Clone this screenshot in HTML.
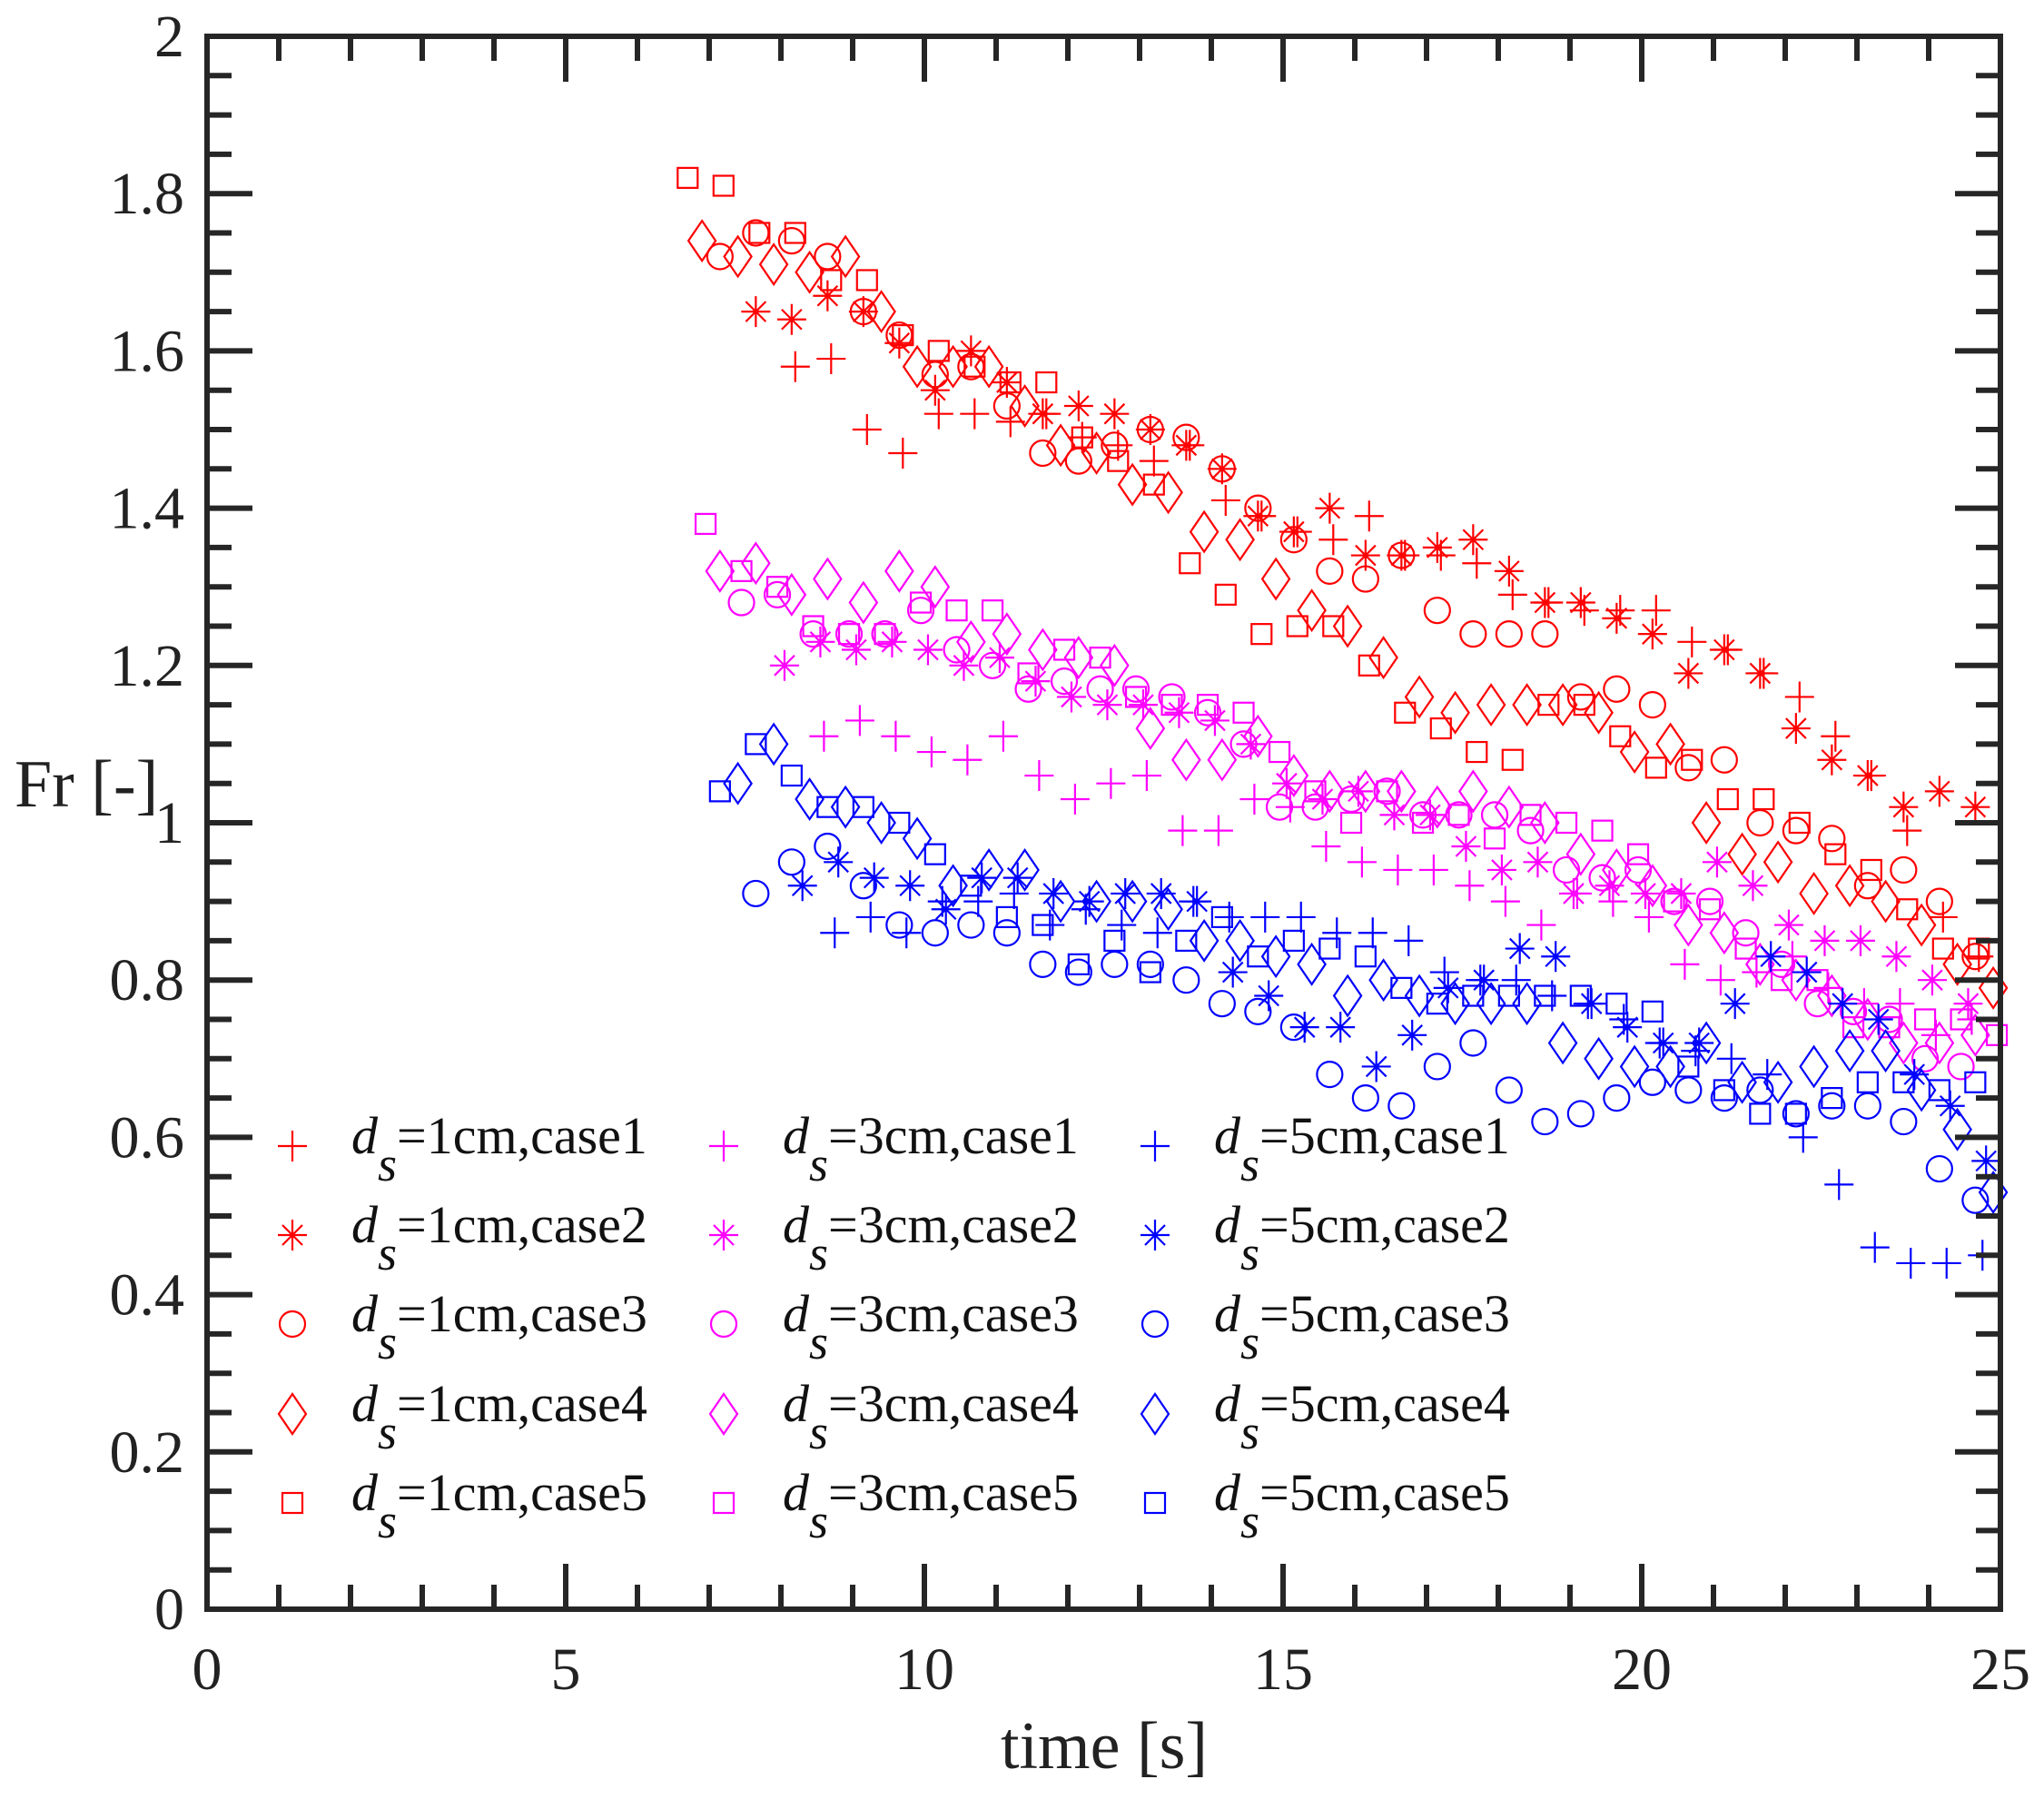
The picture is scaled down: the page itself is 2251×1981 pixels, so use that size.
<!DOCTYPE html>
<html><head><meta charset="utf-8"><style>
html,body{margin:0;padding:0;background:#fff;}
svg{display:block;font-family:"Liberation Serif",serif;}
</style></head><body>
<svg id="chart" width="2251" height="1981" viewBox="0 0 2251 1981" xmlns="http://www.w3.org/2000/svg">
<g id="marks"></g>
<g id="axes"></g>
<g id="legend"></g>
</svg>
<script>
// start times (s) of each series; samples are every 0.5 s
const seriesNames = ["1cm-case1","1cm-case2","1cm-case3","1cm-case4","1cm-case5","3cm-case1","3cm-case2","3cm-case3","3cm-case4","3cm-case5","5cm-case1","5cm-case2","5cm-case3","5cm-case4","5cm-case5"];
const startTimes = [8.2,7.65,7.15,6.9,6.7, 8.6,8.05,7.45,7.15,6.95, 8.75,8.3,7.65,7.4,7.15];
const sampleStep = 0.5;
const fr1c1 = [1.58,1.59,1.50,1.47,1.52,1.52,1.51,1.52,1.49,1.48,1.46,1.48,1.41,1.39,1.37,1.36,1.39,1.34,1.34,1.33,1.29,1.28,1.27,1.27,1.27,1.23,1.22,1.19,1.16,1.11,1.06,0.99,0.88,0.83];
const fr1c2 = [1.65,1.64,1.67,1.65,1.61,1.55,1.60,1.56,1.52,1.53,1.52,1.50,1.48,1.45,1.39,1.37,1.40,1.34,1.34,1.35,1.36,1.32,1.28,1.28,1.26,1.24,1.19,1.22,1.19,1.12,1.08,1.06,1.02,1.04,1.02];
const fr1c3 = [1.72,1.75,1.74,1.72,1.65,1.62,1.57,1.58,1.53,1.47,1.46,1.48,1.50,1.49,1.45,1.40,1.36,1.32,1.31,1.34,1.27,1.24,1.24,1.24,1.16,1.17,1.15,1.07,1.08,1.00,0.99,0.98,0.92,0.94,0.90,0.83];
const fr1c4 = [1.74,1.72,1.71,1.70,1.72,1.65,1.58,1.58,1.58,1.53,1.48,1.47,1.43,1.42,1.37,1.36,1.31,1.27,1.25,1.21,1.16,1.14,1.15,1.15,1.15,1.14,1.09,1.10,1.00,0.96,0.95,0.91,0.92,0.90,0.87,0.82,0.79];
const fr1c5 = [1.82,1.81,1.75,1.75,1.69,1.69,1.62,1.60,1.58,1.56,1.56,1.49,1.46,1.43,1.33,1.29,1.24,1.25,1.25,1.20,1.14,1.12,1.09,1.08,1.15,1.15,1.11,1.07,1.08,1.03,1.03,1.00,0.96,0.94,0.89,0.84,0.84];
const fr3c1 = [1.11,1.13,1.11,1.09,1.08,1.11,1.06,1.03,1.05,1.06,0.99,0.99,1.03,1.02,0.97,0.95,0.94,0.94,0.92,0.90,0.87,0.91,0.90,0.88,0.82,0.80,0.81,0.83,0.79,0.77,0.77,0.73,0.75];
const fr3c2 = [1.20,1.23,1.22,1.23,1.22,1.20,1.21,1.18,1.16,1.15,1.15,1.14,1.13,1.10,1.05,1.03,1.04,1.01,1.01,0.97,0.94,0.95,0.91,0.92,0.91,0.91,0.95,0.92,0.87,0.85,0.85,0.83,0.80,0.77];
const fr3c3 = [1.28,1.29,1.24,1.24,1.24,1.27,1.22,1.20,1.17,1.18,1.17,1.17,1.16,1.14,1.10,1.02,1.02,1.03,1.04,1.01,1.01,1.01,0.99,0.94,0.93,0.94,0.90,0.90,0.86,0.82,0.77,0.76,0.75,0.70,0.69];
const fr3c4 = [1.32,1.33,1.29,1.31,1.28,1.32,1.30,1.23,1.24,1.22,1.21,1.20,1.12,1.08,1.08,1.11,1.06,1.04,1.04,1.04,1.02,1.04,1.02,1.00,0.96,0.94,0.92,0.87,0.86,0.82,0.80,0.78,0.75,0.72,0.72,0.73];
const fr3c5 = [1.38,1.32,1.30,1.25,1.24,1.24,1.28,1.27,1.27,1.19,1.22,1.21,1.16,1.15,1.15,1.14,1.09,1.04,1.00,1.04,1.00,1.01,0.98,1.01,1.00,0.99,0.96,0.90,0.89,0.84,0.80,0.80,0.74,0.74,0.75,0.75,0.73];
const fr5c1 = [0.86,0.88,0.86,0.90,0.90,0.91,0.87,0.89,0.87,0.86,0.90,0.88,0.88,0.88,0.86,0.86,0.85,0.81,0.80,0.80,0.78,0.77,0.75,0.72,0.71,0.70,0.68,0.60,0.54,0.46,0.44,0.44,0.45];
const fr5c2 = [0.92,0.95,0.93,0.92,0.89,0.93,0.93,0.91,0.90,0.91,0.91,0.90,0.81,0.78,0.74,0.74,0.69,0.73,0.79,0.80,0.84,0.83,0.77,0.74,0.72,0.72,0.77,0.83,0.81,0.77,0.75,0.68,0.64,0.57];
const fr5c3 = [0.91,0.95,0.97,0.92,0.87,0.86,0.87,0.86,0.82,0.81,0.82,0.82,0.80,0.77,0.76,0.74,0.68,0.65,0.64,0.69,0.72,0.66,0.62,0.63,0.65,0.67,0.66,0.65,0.66,0.63,0.64,0.64,0.62,0.56,0.52];
const fr5c4 = [1.05,1.10,1.03,1.02,1.00,0.98,0.92,0.94,0.94,0.90,0.90,0.90,0.89,0.85,0.85,0.83,0.82,0.78,0.80,0.78,0.77,0.77,0.77,0.72,0.70,0.69,0.69,0.72,0.67,0.67,0.69,0.71,0.71,0.66,0.61,0.53];
const fr5c5 = [1.04,1.10,1.06,1.02,1.02,1.00,0.96,0.92,0.88,0.87,0.82,0.85,0.81,0.85,0.88,0.83,0.85,0.84,0.83,0.79,0.77,0.78,0.78,0.78,0.78,0.77,0.76,0.69,0.66,0.63,0.63,0.65,0.67,0.67,0.66,0.67];
const seriesValues = [fr1c1,fr1c2,fr1c3,fr1c4,fr1c5,fr3c1,fr3c2,fr3c3,fr3c4,fr3c5,fr5c1,fr5c2,fr5c3,fr5c4,fr5c5];
const xTickLabels = [0,5,10,15,20,25];
const yTickLabels = ["0","0.2","0.4","0.6","0.8","1","1.2","1.4","1.6","1.8","2"];
const legendLabels = ["1cm,case1","1cm,case2","1cm,case3","1cm,case4","1cm,case5","3cm,case1","3cm,case2","3cm,case3","3cm,case4","3cm,case5","5cm,case1","5cm,case2","5cm,case3","5cm,case4","5cm,case5"];

const NS="http://www.w3.org/2000/svg";
const L=228,R=2203,T=40,B=1772;
const xMin=0,xMax=25,yMin=0,yMax=2;
function sx(v){return L+(v-xMin)/(xMax-xMin)*(R-L);}
function sy(v){return B-(v-yMin)/(yMax-yMin)*(B-T);}
const colors=["#ff0000","#ff00ff","#0000ff"];
const shapes=["plus","star","circle","diamond","square"];
function mk(tag,attrs,parent){const e=document.createElementNS(NS,tag);for(const k in attrs)e.setAttribute(k,attrs[k]);parent.appendChild(e);return e;}
function marker(shape,x,y,c,parent){
  const g=mk("g",{stroke:c,fill:"none","stroke-width":"2.2"},parent);
  if(shape==="plus"){mk("path",{d:`M${x-16} ${y}H${x+16}M${x} ${y-17}V${y+17}`},g);}
  else if(shape==="star"){mk("path",{d:`M${x-16} ${y}H${x+16}M${x} ${y-17}V${y+17}M${x-11} ${y-11}L${x+11} ${y+11}M${x-11} ${y+11}L${x+11} ${y-11}`},g);}
  else if(shape==="circle"){mk("circle",{cx:x,cy:y,r:14},g);}
  else if(shape==="diamond"){mk("path",{d:`M${x} ${y-22}L${x+15} ${y}L${x} ${y+22}L${x-15} ${y}Z`},g);}
  else {mk("rect",{x:x-11,y:y-11,width:22,height:22},g);}
  return g;
}
const marks=document.getElementById("marks");
seriesValues.forEach((vals,si)=>{
  const grp=mk("g",{},marks);
  
  
  const c=colors[Math.floor(si/5)], sh=shapes[si%5];
  vals.forEach((v,i)=>{
    const t=startTimes[si]+i*sampleStep;
    const m=marker(sh,sx(t),sy(v),c,grp);
    
    
  });
});
// axes
const ax=document.getElementById("axes");
const frame=mk("rect",{x:L,y:T,width:R-L,height:B-T,fill:"none",stroke:"#262626","stroke-width":"6"},ax);


let tp="";
for(let v=0;v<=25;v+=1){const x=sx(v);const len=(v%5===0)?50:27;if(v>0&&v<25){tp+=`M${x} ${B}V${B-len}M${x} ${T}V${T+len}`;}}
for(let k=0;k<=40;k++){const v=k*0.05;const y=sy(v);const len=(k%4===0)?50:27;if(k>0&&k<40){tp+=`M${L} ${y}H${L+len}M${R} ${y}H${R-len}`;}}
const ticks=mk("path",{d:tp,stroke:"#262626","stroke-width":"6",fill:"none"},ax);


xTickLabels.forEach(v=>{
  const t=mk("text",{x:sx(v),y:1860,"font-size":"66","text-anchor":"middle",fill:"#222"},ax);
  t.textContent=v;
  
  
});
yTickLabels.forEach((s,i)=>{
  const t=mk("text",{x:203,y:sy(i*0.2)+22,"font-size":"66","text-anchor":"end",fill:"#222"},ax);
  t.textContent=s;
  
  
});
const xt=mk("text",{x:1216,y:1947,"font-size":"74","text-anchor":"middle",fill:"#222"},ax);
xt.textContent="time [s]";


const yt=mk("text",{x:16,y:888,"font-size":"74",fill:"#222"},ax);
yt.textContent="Fr [-]";


// legend
const lg=document.getElementById("legend");
const colX=[322,797,1272], rowY=[1262,1360,1458,1557,1655];
legendLabels.forEach((lab,i)=>{
  const col=Math.floor(i/5), row=i%5;
  const g=mk("g",{},lg);
  
  
  const sh=shapes[row];
  marker(sh,colX[col],rowY[row],colors[col],g);
  const tx=colX[col]+65, ty=rowY[row]+8;
  const t=mk("text",{x:tx,y:ty,"font-size":"58",fill:"#111"},g);
  const d=mk("tspan",{"font-style":"italic"},t);d.textContent="d";
  const s=mk("tspan",{"font-style":"italic",dy:"30","font-size":"54"},t);s.textContent="s";
  const r=mk("tspan",{dy:"-30"},t);r.textContent="="+lab;
});
</script>
</body></html>
